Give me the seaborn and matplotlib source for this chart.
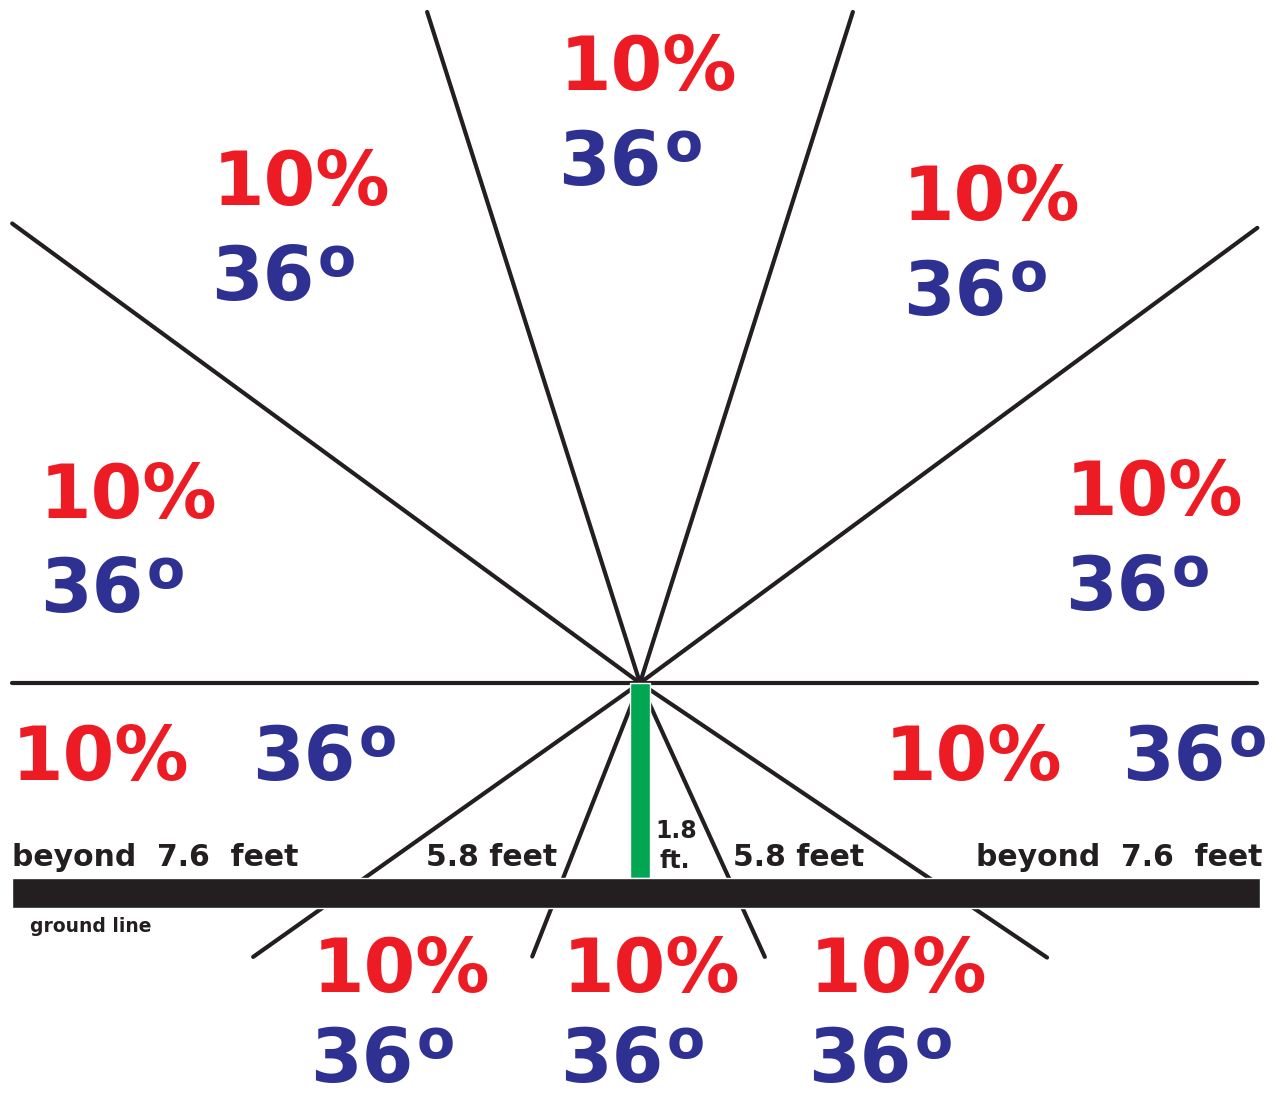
import numpy as np
import pandas as pd
import seaborn as sns
import matplotlib
matplotlib.use("Agg")
import matplotlib.pyplot as plt

sns.set_theme(style="white")
plt.rcParams['font.family'] = ['DejaVu Sans']

# 10 sectors, each 10% / 36 degrees
sector_share = ["10%"] * 10
sector_angle = ["36"] * 10

# rays from the shared vertex (degrees, math orientation) and their lengths in px
ray_angles = [0, 36.4, 72.4, 107.6, 143.8, 180, 215.3, 248.5, 294.5, 326.0]
ray_lengths = [617, 767, 704, 704, 778, 628, 474, 294, 301, 491]
vertex = (640, 683)

# label anchors: (x of "10%", baseline of "10%", x of "36o", baseline of "36o")
label_pos = [
    (560, 90, 558, 185),
    (903, 220, 903, 315),
    (1066, 515, 1065, 610),
    (885, 780, 1122, 780),
    (810, 992, 808, 1082),
    (563, 992, 560, 1082),
    (313, 992, 310, 1082),
    (12, 780, 252, 780),
    (40, 518, 40, 612),
    (213, 205, 211, 300),
]

post_height = 1.8
ground_notes = ["beyond  7.6  feet", "5.8 feet", "5.8 feet", "beyond  7.6  feet"]

RED = "#ed1c24"
BLUE = "#2e3192"
INK = "#231f20"
GREEN = "#00a651"

fig = plt.figure(figsize=(12.74, 10.99), dpi=100)
ax = fig.add_axes([0, 0, 1, 1])
ax.set_xlim(0, 1274)
ax.set_ylim(1099, 0)
ax.axis('off')

# rays
rows = []
for i, (a, l) in enumerate(zip(ray_angles, ray_lengths)):
    t = np.radians(a)
    rows.append({"ray": i, "step": 0, "x": vertex[0], "y": vertex[1]})
    rows.append({"ray": i, "step": 1, "x": vertex[0] + l * np.cos(t),
                 "y": vertex[1] - l * np.sin(t)})
rays = pd.DataFrame(rows)
sns.lineplot(data=rays, x="x", y="y", units="ray", estimator=None, sort=False,
             color=INK, linewidth=3.0, ax=ax, legend=False)

# post (1.8 ft) and ground line
ax.bar(x=vertex[0], height=195, bottom=vertex[1], width=20, color=GREEN, zorder=3)
ax.barh(y=893, width=1248, left=12, height=30, color=INK, zorder=3)

# sector labels
renderer = fig.canvas.get_renderer()
big = dict(fontsize=53.5, fontweight='bold', ha='left', va='baseline')
for share, ang, (x1, y1, x2, y2) in zip(sector_share, sector_angle, label_pos):
    ax.text(x1, y1, share, color=RED, **big)
    t = ax.text(x2, y2, ang, color=BLUE, **big)
    w = t.get_window_extent(renderer).width
    # superscript "o" for degrees
    ax.text(x2 + w + 3, y2 - 24, "o", color=BLUE, fontsize=40,
            fontweight='bold', ha='left', va='baseline')

# distance notes
small = dict(fontsize=21.5, fontweight='bold', color=INK, va='baseline')
ax.text(12, 866, ground_notes[0], ha='left', **small)
ax.text(557, 866, ground_notes[1], ha='right', **small)
ax.text(733, 866, ground_notes[2], ha='left', **small)
ax.text(1262, 866, ground_notes[3], ha='right', **small)
ax.text(655, 838, f"{post_height}", fontsize=17, fontweight='bold', color=INK,
        ha='left', va='baseline')
ax.text(660, 868, "ft.", fontsize=17, fontweight='bold', color=INK,
        ha='left', va='baseline')
ax.text(30, 932, "ground line", fontsize=13.5, fontweight='bold', color=INK,
        ha='left', va='baseline')

fig.savefig("out.png", dpi=100)
